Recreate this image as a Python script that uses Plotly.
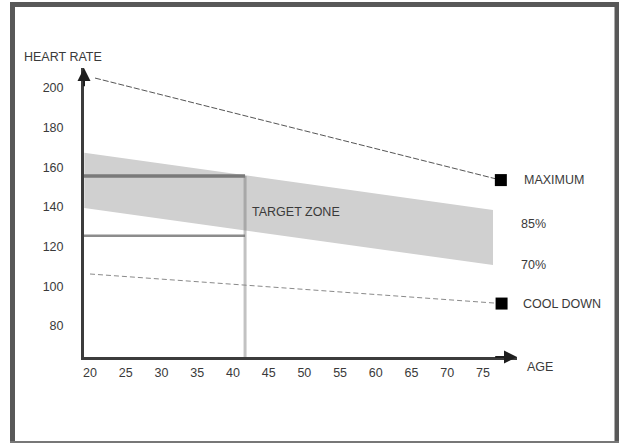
import plotly.graph_objects as go

# ---- data ----
x_ticks = [20, 25, 30, 35, 40, 45, 50, 55, 60, 65, 70, 75]
y_ticks = [80, 100, 120, 140, 160, 180, 200]

band_ages = [19.2, 76.4]
band_upper = [167.3, 138.4]   # 85% edge
band_lower = [139.4, 110.7]   # 70% edge

max_ages = [20.7, 77.5]
max_values = [204.9, 153.5]

cool_ages = [20.0, 77.6]
cool_values = [106.2, 91.3]

example_age = 41.7
example_upper = 155.6
example_lower = 125.5

X_RANGE = [19.16, 79.76]
Y_RANGE = [64.38, 209.97]

FONT = "Liberation Sans, Arial, sans-serif"
TXT = "#3a3a3a"

fig = go.Figure()

# target zone band
fig.add_trace(go.Scatter(
    x=band_ages + band_ages[::-1],
    y=band_upper + band_lower[::-1],
    fill="toself", fillcolor="#d0d0d0",
    line=dict(width=0), mode="lines", hoverinfo="skip", showlegend=False))

# example lines for age ~40
fig.add_trace(go.Scatter(
    x=[X_RANGE[0], example_age], y=[example_lower, example_lower],
    mode="lines", line=dict(color="#8c8c8c", width=2.5), showlegend=False))
fig.add_trace(go.Scatter(
    x=[example_age, example_age], y=[Y_RANGE[0], example_upper],
    mode="lines", line=dict(color="rgba(120,120,120,0.45)", width=3), showlegend=False))
fig.add_trace(go.Scatter(
    x=[X_RANGE[0], example_age], y=[example_upper, example_upper],
    mode="lines", line=dict(color="#7a7a7a", width=3.5), showlegend=False))

# maximum line
fig.add_trace(go.Scatter(
    x=max_ages, y=max_values, mode="lines",
    line=dict(color="#555555", width=1, dash="6px,2px"), showlegend=False))
fig.add_trace(go.Scatter(
    x=[max_ages[-1]], y=[max_values[-1]], mode="markers",
    marker=dict(symbol="square", size=12, color="#000000"), showlegend=False))

# cool down line
fig.add_trace(go.Scatter(
    x=cool_ages, y=cool_values, mode="lines",
    line=dict(color="#8a8a8a", width=1, dash="5px,3px"), showlegend=False))
fig.add_trace(go.Scatter(
    x=[cool_ages[-1]], y=[cool_values[-1]], mode="markers",
    marker=dict(symbol="square", size=12, color="#000000"), showlegend=False))

L, R, T, B = 84, 517, 68, 357
W, H = 619, 443
def xp(px):
    return (px - L) / (R - L)
def yp(py):
    return (B - py) / (B - T)

annotations = [
    dict(text="HEART RATE", x=xp(22), y=yp(57), xanchor="left", yanchor="middle"),
    dict(text="TARGET ZONE", x=xp(250), y=yp(212), xanchor="left", yanchor="middle"),
    dict(text="MAXIMUM", x=xp(522), y=yp(180), xanchor="left", yanchor="middle"),
    dict(text="85%", x=xp(519), y=yp(224), xanchor="left", yanchor="middle"),
    dict(text="70%", x=xp(519), y=yp(264.5), xanchor="left", yanchor="middle"),
    dict(text="COOL DOWN", x=xp(521), y=yp(304), xanchor="left", yanchor="middle"),
    dict(text="AGE", x=xp(525), y=yp(367), xanchor="left", yanchor="middle"),
]
for a in annotations:
    a.update(xref="paper", yref="paper", showarrow=False,
             font=dict(family=FONT, size=12.5, color=TXT))

# axis arrowheads
annotations.append(dict(x=X_RANGE[0], y=Y_RANGE[1], ax=X_RANGE[0], ay=200,
                        xref="x", yref="y", axref="x", ayref="y", text="",
                        showarrow=True, arrowhead=2, arrowsize=1.3, arrowwidth=2,
                        arrowcolor="#1e1e1e"))
annotations.append(dict(x=X_RANGE[1], y=Y_RANGE[0], ax=76.5, ay=Y_RANGE[0],
                        xref="x", yref="y", axref="x", ayref="y", text="",
                        showarrow=True, arrowhead=2, arrowsize=1.3, arrowwidth=2,
                        arrowcolor="#1e1e1e"))

FR = "#585858"
shapes = [
    dict(type="rect", xref="paper", yref="paper", x0=xp(10), x1=xp(15), y0=yp(443), y1=yp(2),
         fillcolor=FR, line=dict(width=0), layer="above"),
    dict(type="rect", xref="paper", yref="paper", x0=xp(10), x1=xp(619), y0=yp(7), y1=yp(2),
         fillcolor=FR, line=dict(width=0), layer="above"),
    dict(type="rect", xref="paper", yref="paper", x0=xp(614.5), x1=xp(619), y0=yp(443), y1=yp(2),
         fillcolor=FR, line=dict(width=0), layer="above"),
    dict(type="rect", xref="paper", yref="paper", x0=xp(10), x1=xp(619), y0=yp(443), y1=yp(441),
         fillcolor="#777777", line=dict(width=0), layer="above"),
]

fig.update_layout(
    width=W, height=H,
    margin=dict(l=L, r=W - R, t=T, b=H - B, pad=0),
    paper_bgcolor="white", plot_bgcolor="white",
    showlegend=False,
    annotations=annotations, shapes=shapes,
    xaxis=dict(range=X_RANGE, tickvals=x_ticks, showgrid=False, zeroline=False,
               showline=True, linecolor="#3c3c3c", linewidth=3,
               ticks="", ticklabelstandoff=2,
               tickfont=dict(family=FONT, size=12.5, color=TXT), fixedrange=True),
    yaxis=dict(range=Y_RANGE, tickvals=y_ticks, showgrid=False, zeroline=False,
               showline=True, linecolor="#3c3c3c", linewidth=3,
               ticks="", ticklabelstandoff=15,
               tickfont=dict(family=FONT, size=12.5, color=TXT), fixedrange=True),
)

fig.write_html(
    "out.html",
    config={"displayModeBar": False},
    post_script="document.body.style.margin='0';document.body.style.overflow='hidden';",
)
